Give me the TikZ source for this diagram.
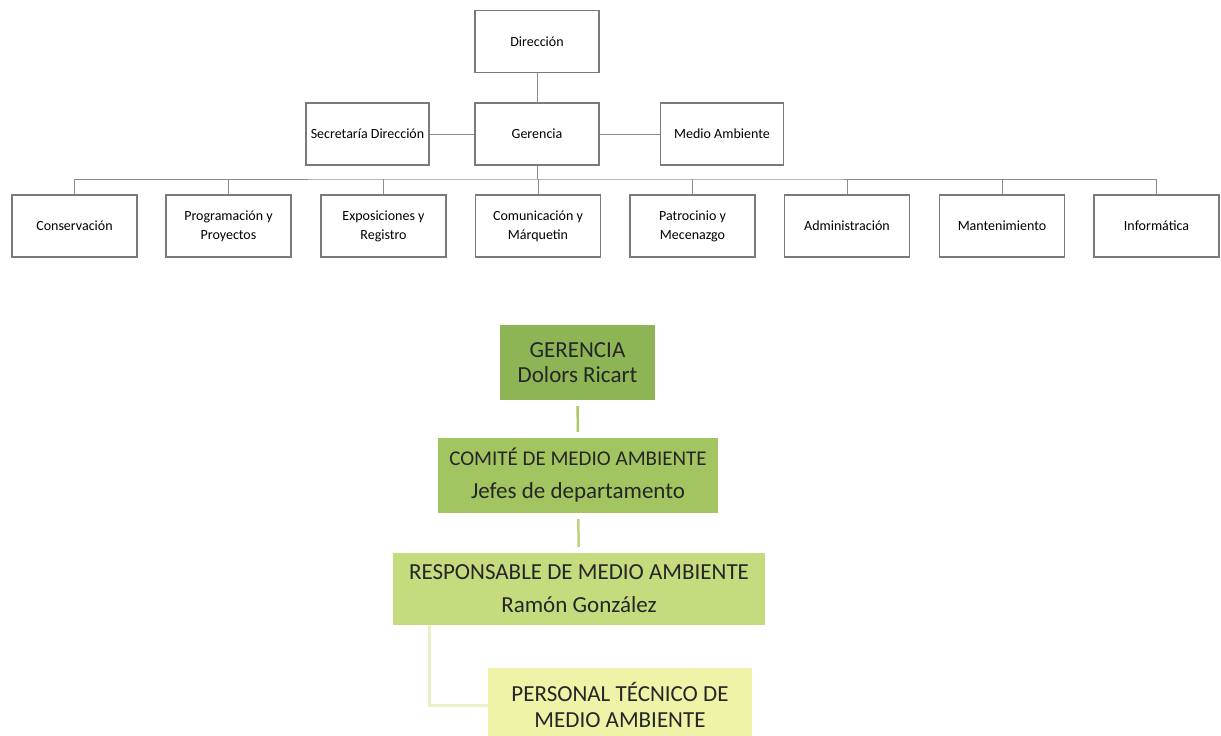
\documentclass[tikz,border=0pt]{standalone}
\usepackage{fontspec}
\setmainfont{Carlito}
\definecolor{gA}{HTML}{8DB556}
\definecolor{gB}{HTML}{A3C561}
\definecolor{gC}{HTML}{C4DB7E}
\definecolor{gD}{HTML}{EEF3A8}
\definecolor{lnA}{HTML}{A9C766}
\definecolor{lnB}{HTML}{BCD47E}
\definecolor{lnC}{HTML}{EAF1C6}
\definecolor{boxline}{HTML}{7A7A7A}
\definecolor{orgline}{HTML}{8C8C8C}
\definecolor{txt}{HTML}{262626}
\tikzset{
  orgbox/.style={draw=boxline, line width=1.1pt, fill=white, minimum width=124pt, minimum height=62pt,
    inner sep=0pt, align=center, font=\fontsize{14}{19}\selectfont},
  deptbox/.style={orgbox, minimum width=125pt},
  orgedge/.style={draw=orgline, line width=1pt},
  greenbox/.style={draw=none, inner sep=0pt, align=center, text=txt},
  greenedge/.style={line width=2.5pt, shorten <=6pt, shorten >=6pt}
}
\begin{document}
\begin{tikzpicture}[x=1pt,y=-1pt]
\useasboundingbox (0,0) rectangle (1221,736);
\fill[white] (0,0) rectangle (1221,736);

% top chart
\node[orgbox] (dir) at (537,41.5) {Dirección};
\node[orgbox] (ger) at (537,134) {Gerencia};
\node[orgbox, minimum width=123pt] (sec) at (367.5,134) {Secretaría Dirección};
\node[orgbox, minimum width=123pt] (med) at (722,134) {Medio Ambiente};

\node[deptbox] (b1) at (74.5,226) {Conservación};
\node[deptbox] (b2) at (228.5,226) {Programación y\\Proyectos};
\node[deptbox] (b3) at (383.5,226) {Exposiciones y\\Registro};
\node[deptbox] (b4) at (538,226) {Comunicación y\\Márquetin};
\node[deptbox] (b5) at (692.5,226) {Patrocinio y\\Mecenazgo};
\node[deptbox] (b6) at (847,226) {Administración};
\node[deptbox] (b7) at (1002,226) {Mantenimiento};
\node[deptbox] (b8) at (1156.5,226) {Informática};

\coordinate (bus) at (537,179);

\draw[orgedge] (dir) -- (ger);
\draw[orgedge] (sec) -- (ger);
\draw[orgedge] (ger) -- (med);
\draw[orgedge] (ger.south) -- (bus);
\draw[orgedge] (b1.north) |- (bus) -| (b8.north);
\foreach \b in {b2,b3,b4,b5,b6,b7}{
  \draw[orgedge] (\b.north) -- (\b.north |- bus);
}

% bottom chart
\node[greenbox, fill=gA, minimum width=155pt, minimum height=75pt,
  font=\fontsize{23}{25}\selectfont] (g1) at (577.5,362.5) {GERENCIA\\Dolors Ricart};
\node[greenbox, fill=gB, minimum width=280pt, minimum height=75pt,
  font=\fontsize{23}{33}\selectfont] (g2) at (578,475.5)
  {{\fontsize{21}{33}\selectfont COMITÉ DE MEDIO AMBIENTE}\\Jefes de departamento};
\node[greenbox, fill=gC, minimum width=372pt, minimum height=72pt,
  font=\fontsize{23}{33}\selectfont] (g3) at (579,589) {RESPONSABLE DE MEDIO AMBIENTE\\Ramón González};
\node[greenbox, fill=gD, minimum width=264pt, minimum height=74pt,
  font=\fontsize{23}{26}\selectfont] (g4) at (620,705) {PERSONAL TÉCNICO DE\\MEDIO AMBIENTE};

\draw[greenedge, draw=lnA] (g1) -- (g2);
\draw[greenedge, draw=lnB] (g2) -- (g3);
\draw[draw=lnC, line width=3pt] ([xshift=37pt]g3.south west) |- (g4.west);
\end{tikzpicture}
\end{document}
